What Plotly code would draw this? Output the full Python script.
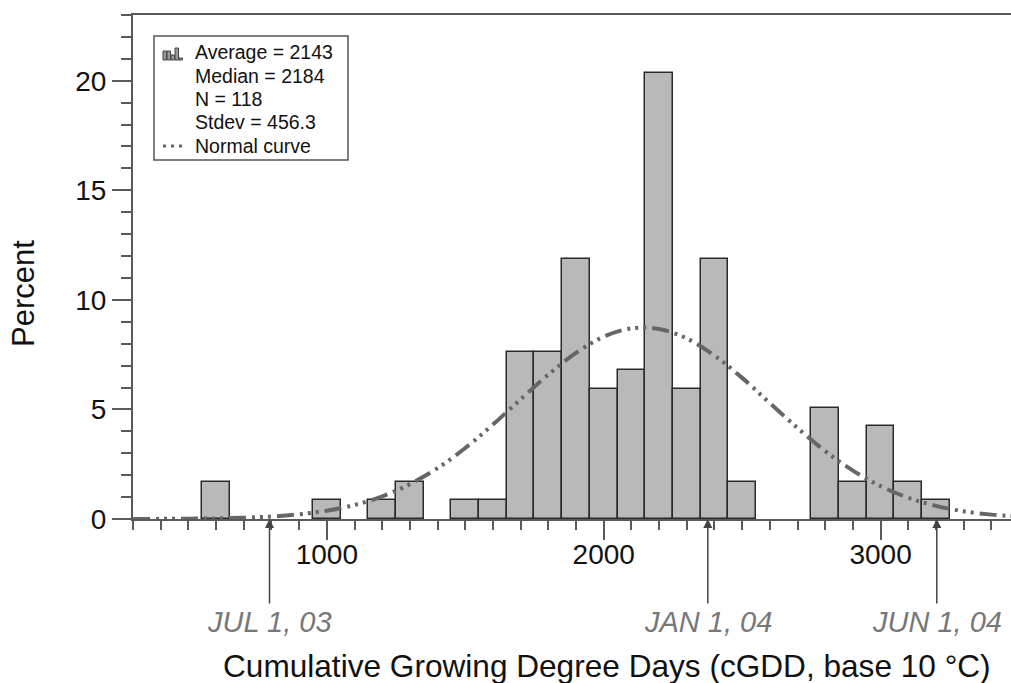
import plotly.graph_objects as go

# ---- data ----
bin_centers = [600, 1000, 1200, 1300, 1500, 1600, 1700, 1800, 1900, 2000,
               2100, 2200, 2300, 2400, 2500, 2800, 2900, 3000, 3100, 3200]
percent = [1.69, 0.85, 0.85, 1.69, 0.85, 0.85, 7.63, 7.63, 11.86, 5.93,
           6.78, 20.34, 5.93, 11.86, 1.69, 5.08, 1.69, 4.24, 1.69, 0.85]
bin_width = 100

curve_x = [300, 400, 500, 600, 700, 800, 900, 1000, 1100, 1200, 1300, 1400,
           1500, 1600, 1700, 1800, 1900, 2000, 2100, 2200, 2300, 2400, 2500,
           2600, 2700, 2800, 2900, 3000, 3100, 3200, 3300, 3400, 3500]
curve_y = [0.003, 0.006, 0.013, 0.029, 0.059, 0.115, 0.214, 0.379, 0.641,
           1.03, 1.59, 2.32, 3.24, 4.31, 5.46, 6.59, 7.58, 8.32, 8.70, 8.67,
           8.24, 7.46, 6.44, 5.29, 4.15, 3.10, 2.21, 1.50, 0.97, 0.60, 0.35,
           0.20, 0.11]

legend_lines = ["Average = 2143", "Median = 2184", "N = 118",
                "Stdev = 456.3", "Normal curve"]

date_x = [793, 2376, 3203]
date_labels = ["JUL 1, 03", "JAN 1, 04", "JUN 1, 04"]

x_title = "Cumulative Growing Degree Days (cGDD, base 10 °C)"
y_title = "Percent"

# ---- layout geometry ----
W, H = 1011, 683
L, R, T, B = 133, 0, 15, 164
PW, PH = W - L - R, H - T - B
FONT = "Liberation Sans, Arial, Helvetica, sans-serif"


def px(x):
    return (x - L) / PW


def py(y):
    return (H - B - y) / PH


fig = go.Figure()
fig.add_trace(go.Bar(
    x=bin_centers, y=percent, width=bin_width,
    marker=dict(color="#b9b9b9", line=dict(color="#2b2b2b", width=1.5)),
    showlegend=False, hoverinfo="x+y"))
fig.add_trace(go.Scatter(
    x=curve_x, y=curve_y, mode="lines",
    line=dict(color="#666666", width=4, shape="spline",
              dash="17px,6px,3px,5px,3px,5px,3px,6px"),
    showlegend=False))

axis_common = dict(
    showline=True, linecolor="#5a5a5a", linewidth=2,
    ticks="outside", tickcolor="#5a5a5a", tickwidth=1.5, ticklen=19,
    tickfont=dict(family=FONT, size=28, color="#111"),
    showgrid=False, zeroline=False)

fig.update_layout(
    width=W, height=H,
    margin=dict(l=L, r=R, t=T, b=B),
    paper_bgcolor="white", plot_bgcolor="white",
    bargap=0, showlegend=False,
    font=dict(family=FONT),
    xaxis=dict(range=[300, 3471], tickvals=[1000, 2000, 3000],
               mirror=True, ticklabelstandoff=-10,
               minor=dict(dtick=100, tick0=0, ticks="outside", ticklen=9,
                          tickcolor="#5a5a5a", tickwidth=1.5),
               **axis_common),
    yaxis=dict(range=[0, 23], tickvals=[0, 5, 10, 15, 20],
               minor=dict(dtick=1, tick0=0, ticks="outside", ticklen=10,
                          tickcolor="#5a5a5a", tickwidth=1.5),
               **axis_common),
)

annotations = []
shapes = []

# date arrows and labels
for xv, lab in zip(date_x, date_labels):
    annotations.append(dict(
        x=xv, y=0, xref="x", yref="y", text="", showarrow=True,
        ax=0, ay=86, axref="pixel", ayref="pixel",
        arrowhead=2, arrowsize=1.2, arrowwidth=1.5, arrowcolor="#444"))
    annotations.append(dict(
        x=xv, y=0, xref="x", yref="paper", yanchor="middle", yshift=-103,
        text="<i>" + lab + "</i>", showarrow=False,
        font=dict(family=FONT, size=29, color="#777")))

# axis titles
annotations.append(dict(
    x=px(607), y=py(666), xref="paper", yref="paper", text=x_title,
    showarrow=False, xanchor="center", yanchor="middle",
    font=dict(family=FONT, size=31.6, color="#111")))
annotations.append(dict(
    x=px(23), y=py(293), xref="paper", yref="paper", text=y_title,
    showarrow=False, textangle=-90, xanchor="center", yanchor="middle",
    font=dict(family=FONT, size=31, color="#111")))

# custom legend box
shapes.append(dict(type="rect", xref="paper", yref="paper",
                   x0=px(154), x1=px(348), y0=py(160), y1=py(36),
                   line=dict(color="#555", width=1.5), fillcolor="white"))
line_y = [52, 76, 99, 122, 146]
for yy, txt in zip(line_y, legend_lines):
    annotations.append(dict(
        x=px(193), y=py(yy), xref="paper", yref="paper", text=txt,
        showarrow=False, xanchor="left", yanchor="middle",
        font=dict(family=FONT, size=19.5, color="#111")))

# histogram icon
icon_bars = [(163, 9), (167, 9), (171, 5), (175, 12), (179, 2)]
for x0, h in icon_bars:
    shapes.append(dict(type="rect", xref="paper", yref="paper",
                       x0=px(x0), x1=px(x0 + 3.5), y0=py(60), y1=py(60 - h),
                       line=dict(color="#444", width=1), fillcolor="#999"))
# normal curve sample
shapes.append(dict(type="line", xref="paper", yref="paper",
                   x0=px(163), x1=px(184), y0=py(146), y1=py(146),
                   line=dict(color="#666", width=3, dash="3px,5px")))

fig.update_layout(annotations=annotations, shapes=shapes)

fig.write_html("out.html",
               config={"displayModeBar": False},
               post_script="document.body.style.margin='0';"
                           "document.body.style.overflow='hidden';")
